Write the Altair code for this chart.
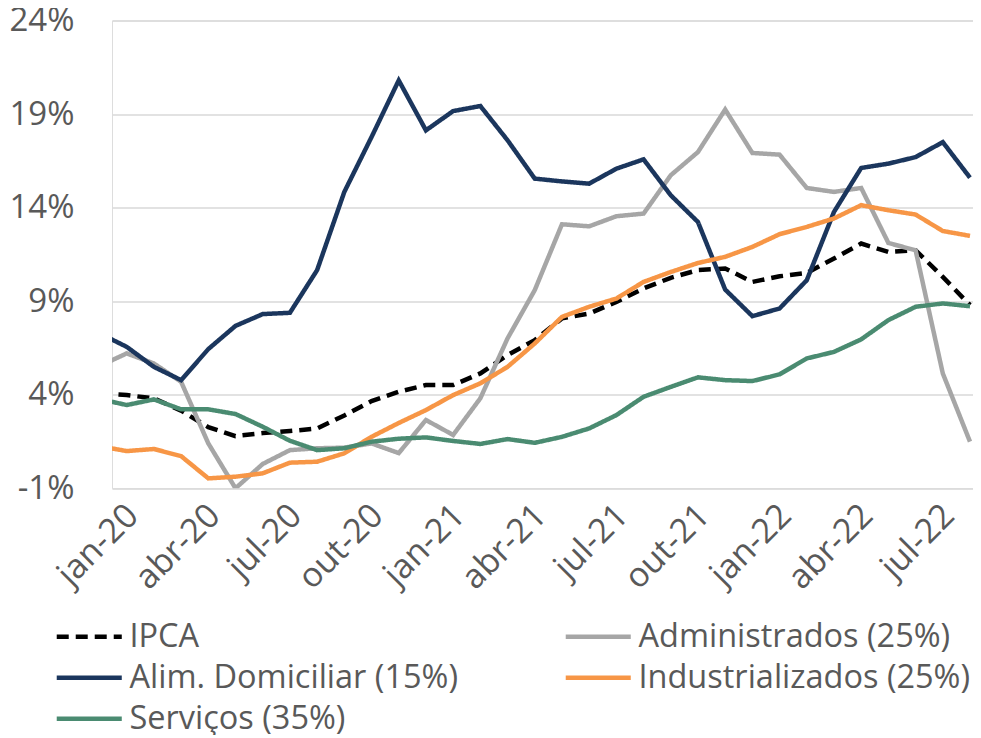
import json
import altair as alt
import pandas as pd

# Months (index -1 = dez-19 is only partially visible, clipped at plot edge)
months = ["dez-19",
          "jan-20", "fev-20", "mar-20", "abr-20", "mai-20", "jun-20", "jul-20", "ago-20", "set-20", "out-20", "nov-20", "dez-20",
          "jan-21", "fev-21", "mar-21", "abr-21", "mai-21", "jun-21", "jul-21", "ago-21", "set-21", "out-21", "nov-21", "dez-21",
          "jan-22", "fev-22", "mar-22", "abr-22", "mai-22", "jun-22", "jul-22", "ago-22"]

ipca = [4.07,
        3.98, 3.81, 3.15, 2.27, 1.79, 1.95, 2.06, 2.20, 2.89, 3.66, 4.16, 4.52,
        4.52, 5.14, 6.12, 6.92, 8.08, 8.34, 8.96, 9.68, 10.25, 10.66, 10.75, 10.03,
        10.33, 10.51, 11.28, 12.08, 11.63, 11.72, 10.30, 8.79]

administrados = [5.53,
                 6.21, 5.67, 4.69, 1.40, -1.00, 0.30, 1.04, 1.14, 1.17, 1.40, 0.88, 2.65,
                 1.85, 3.81, 7.01, 9.59, 13.11, 13.00, 13.54, 13.68, 15.73, 16.97, 19.24, 16.92,
                 16.83, 15.05, 14.84, 15.05, 12.11, 11.72, 5.14, 1.49]

alimentos = [7.28,
             6.56, 5.49, 4.78, 6.44, 7.68, 8.31, 8.38, 10.66, 14.84, 17.77, 20.80, 18.13,
             19.16, 19.43, 17.60, 15.55, 15.40, 15.28, 16.08, 16.58, 14.66, 13.23, 9.62, 8.20,
             8.61, 10.12, 13.77, 16.12, 16.35, 16.70, 17.50, 15.60]

industrializados = [1.25,
                    0.99, 1.10, 0.72, -0.47, -0.38, -0.20, 0.37, 0.42, 0.87, 1.75, 2.49, 3.18,
                    3.98, 4.61, 5.49, 6.74, 8.16, 8.70, 9.14, 10.03, 10.56, 11.04, 11.37, 11.90,
                    12.58, 12.97, 13.42, 14.13, 13.86, 13.63, 12.75, 12.49]

servicos = [3.77,
            3.45, 3.75, 3.22, 3.22, 2.97, 2.29, 1.54, 1.04, 1.14, 1.49, 1.65, 1.72,
            1.53, 1.37, 1.63, 1.43, 1.75, 2.20, 2.91, 3.89, 4.42, 4.93, 4.78, 4.73,
            5.09, 5.94, 6.29, 6.96, 7.99, 8.70, 8.88, 8.73]

series_names = ["IPCA", "Administrados (25%)", "Alim. Domiciliar (15%)",
                "Industrializados (25%)", "Serviços (35%)"]
series_values = [ipca, administrados, alimentos, industrializados, servicos]
series_colors = ["#000000", "#A6A6A6", "#1B365D", "#F79646", "#4A8B71"]
series_dashes = [[12, 7], [1, 0], [1, 0], [1, 0], [1, 0]]

# legend is laid out column-major: reorder so rows read IPCA|Administrados, Alim|Industrializados, Serviços
legend_order = [0, 2, 4, 1, 3]
dom = [series_names[i] for i in legend_order]
col_range = [series_colors[i] for i in legend_order]
dash_range = [series_dashes[i] for i in legend_order]

tick_idx = [0, 3, 6, 9, 12, 15, 18, 21, 24, 27, 30]
y_ticks = [-1, 4, 9, 14, 19, 24]

rows = []
for s_i, (name, vals) in enumerate(zip(series_names, series_values)):
    for m_i, (m, v) in enumerate(zip(months, vals)):
        rows.append({"idx": m_i - 1, "month": m, "series": name, "value": v})
df = pd.DataFrame(rows)

FONT = "Open Sans"
TXT = "#595959"

legend = alt.Legend(
    title=None,
    orient="none",
    legendX=-39,
    legendY=600,
    columns=2,
    columnPadding=97,
    rowPadding=8,
    symbolType="M-3,0H3",
    symbolSize=470,
    symbolStrokeWidth=4.5,
    labelFont=FONT,
    labelFontSize=32.5,
    labelColor=TXT,
    labelOffset=24,
    labelLimit=0,
    padding=0,
)

chart = alt.Chart(df).mark_line(strokeWidth=4.5, clip=True, strokeCap="butt", strokeJoin="miter").encode(
    x=alt.X("idx:Q",
            scale=alt.Scale(domain=[-0.54, 31.11], nice=False, zero=False),
            axis=alt.Axis(values=tick_idx,
                          labelExpr=json.dumps(months) + "[datum.value + 1]",
                          labelAngle=315, labelAlign="right", labelBaseline="middle",
                          labelFont=FONT, labelFontSize=34, labelColor=TXT,
                          labelPadding=22, labelOffset=6,
                          grid=False, domain=False, ticks=False, title=None,
                          labelOverlap=False, labelFlush=False)),
    y=alt.Y("value:Q",
            scale=alt.Scale(domain=[-1, 24], nice=False, zero=False),
            axis=alt.Axis(values=y_ticks, labelExpr="datum.value + '%'",
                          labelFont=FONT, labelFontSize=33, labelColor=TXT,
                          labelPadding=38, grid=True, gridColor="#D9D9D9", gridWidth=1.5,
                          domain=False, ticks=False, title=None)),
    color=alt.Color("series:N", scale=alt.Scale(domain=dom, range=col_range), legend=legend),
    strokeDash=alt.StrokeDash("series:N", scale=alt.Scale(domain=dom, range=dash_range), legend=legend),
).properties(
    width=861,
    height=467.8,
    padding={"left": 104, "top": 12.5, "right": 0, "bottom": 247},
    autosize="none",
).configure_view(stroke=None).configure(background="white")

chart.save("out.html", embed_options={"renderer": "svg", "actions": False})
